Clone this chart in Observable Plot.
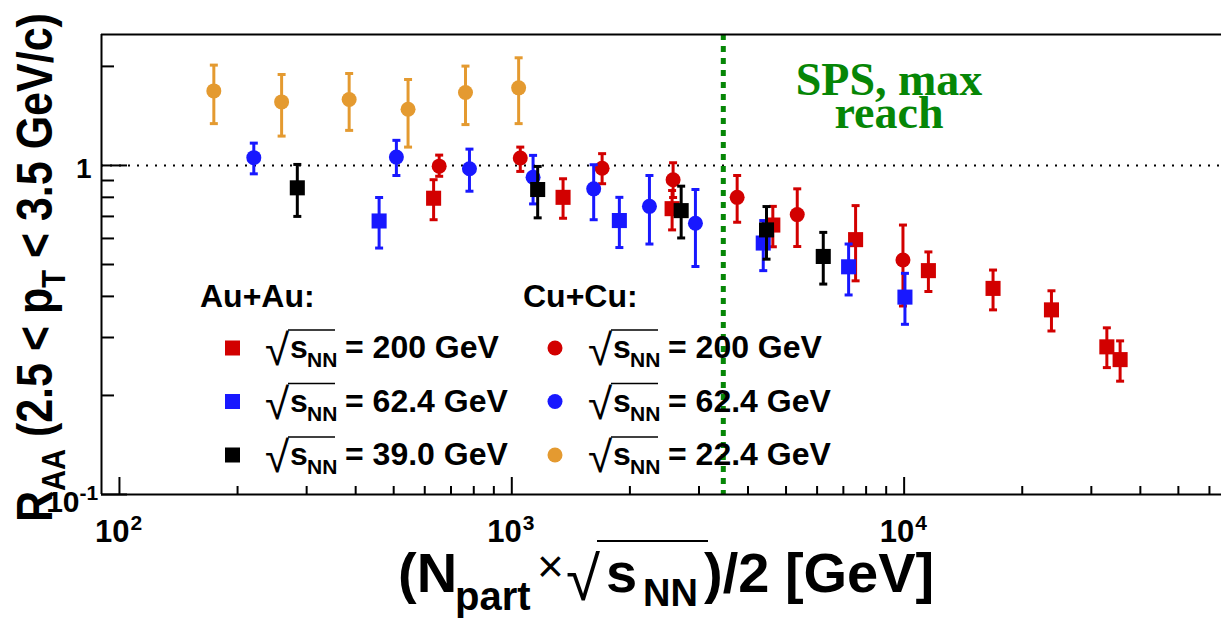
<!DOCTYPE html>
<html><head><meta charset="utf-8">
<script src="https://cdn.jsdelivr.net/npm/d3@7"></script>
<script src="https://cdn.jsdelivr.net/npm/@observablehq/plot@0.6"></script>
<style>
html,body{margin:0;padding:0;background:#fff;}
#chart{width:1221px;height:618px;overflow:hidden;position:relative;}
</style></head><body><div id="chart"></div>
<script>
// ---------------- data ----------------
// Au+Au sqrt(sNN)=200 GeV (red squares)
const auau200X  = [632, 1351, 2562, 4627, 7521, 11530, 16850, 23740, 32860, 35520];
const auau200Y  = [0.795, 0.800, 0.739, 0.659, 0.595, 0.479, 0.423, 0.364, 0.281, 0.257];
const auau200Lo = [0.684, 0.691, 0.637, 0.566, 0.446, 0.414, 0.364, 0.314, 0.243, 0.221];
const auau200Hi = [0.905, 0.911, 0.839, 0.751, 0.755, 0.546, 0.481, 0.416, 0.321, 0.293];
// Au+Au 62.4 GeV (blue squares)
const auau62X  = [459, 1880, 4374, 7219, 10047];
const auau62Y  = [0.678, 0.680, 0.581, 0.492, 0.398];
const auau62Lo = [0.561, 0.563, 0.479, 0.404, 0.329];
const auau62Hi = [0.799, 0.800, 0.680, 0.577, 0.470];
// Au+Au 39.0 GeV (black squares)
const auau39X  = [284, 1164, 2702, 4459, 6221];
const auau39Y  = [0.855, 0.845, 0.729, 0.637, 0.529];
const auau39Lo = [0.700, 0.693, 0.602, 0.519, 0.436];
const auau39Hi = [1.007, 0.993, 0.865, 0.750, 0.626];
// Cu+Cu 200 GeV (red circles)
const cucu200X  = [653, 1051, 1699, 2577, 3753, 5340, 9931];
const cucu200Y  = [0.995, 1.053, 0.981, 0.905, 0.800, 0.709, 0.516];
const cucu200Lo = [0.927, 0.959, 0.880, 0.799, 0.672, 0.567, 0.374];
const cucu200Hi = [1.075, 1.137, 1.086, 1.019, 0.932, 0.849, 0.659];
// Cu+Cu 62.4 GeV (blue circles)
const cucu62X  = [220, 508, 780, 1133, 1617, 2243, 2938];
const cucu62Y  = [1.056, 1.060, 0.977, 0.921, 0.849, 0.751, 0.667];
const cucu62Lo = [0.943, 0.932, 0.835, 0.764, 0.684, 0.577, 0.493];
const cucu62Hi = [1.169, 1.192, 1.121, 1.073, 1.005, 0.932, 0.845];
// Cu+Cu 22.4 GeV (orange circles)
const cucu22X  = [174, 259, 385, 544, 762, 1041];
const cucu22Y  = [1.685, 1.560, 1.586, 1.482, 1.666, 1.721];
const cucu22Lo = [1.340, 1.228, 1.278, 1.137, 1.331, 1.340];
const cucu22Hi = [2.018, 1.890, 1.903, 1.825, 2.004, 2.124];

const spsReach = [3460];            // SPS max reach line (x value)
const unityLine = [1];              // R_AA = 1 reference line

const xDomain = [90, 64400];
const yDomain = [0.1, 2.5];
const xMajorTicks = [100, 1000, 10000];
const xMajorExp   = ["2", "3", "4"];
const xMinorTicks = [200,300,400,500,600,700,800,900,2000,3000,4000,5000,6000,7000,8000,9000,20000,30000,40000,50000,60000];
const yMajorTicks = [0.1, 1];
const yMinorTicks = [0.2,0.3,0.4,0.5,0.6,0.7,0.8,0.9,2];

const seriesKeys   = ["CuCu200", "AuAu200", "AuAu62", "CuCu62", "AuAu39", "CuCu22"];
const seriesColors = ["#d20000", "#d20000", "#1818ff", "#1818ff", "#000000", "#e49a30"];
const seriesSymbols= ["circle", "square", "square", "circle", "square", "circle"];

const legendAuLabels = ["= 200 GeV", "= 62.4 GeV", "= 39.0 GeV"];
const legendAuKeys   = ["AuAu200", "AuAu62", "AuAu39"];
const legendCuLabels = ["= 200 GeV", "= 62.4 GeV", "= 22.4 GeV"];
const legendCuKeys   = ["CuCu200", "CuCu62", "CuCu22"];

// ---------------- layout ----------------
const W = 1221, H = 618;
const M = {left: 101, right: 0, top: 34, bottom: 124};
const innerW = W - M.left - M.right;
const innerH = H - M.top - M.bottom;
const FONT = "'Liberation Sans', Arial, Helvetica, sans-serif";
const GREEN = "#068606";

const seriesData = {
  AuAu200: [auau200X, auau200Y, auau200Lo, auau200Hi],
  AuAu62:  [auau62X, auau62Y, auau62Lo, auau62Hi],
  AuAu39:  [auau39X, auau39Y, auau39Lo, auau39Hi],
  CuCu200: [cucu200X, cucu200Y, cucu200Lo, cucu200Hi],
  CuCu62:  [cucu62X, cucu62Y, cucu62Lo, cucu62Hi],
  CuCu22:  [cucu22X, cucu22Y, cucu22Lo, cucu22Hi]
};

const capSymbol = {draw(ctx, size) { const r = Math.sqrt(size / Math.PI); ctx.moveTo(-r, 0); ctx.lineTo(r, 0); }};

const marks = [
  Plot.ruleY(unityLine, {y: d => d, stroke: "#000", strokeWidth: 2, strokeDasharray: "2 7"}),
  Plot.ruleX(spsReach, {x: d => d, stroke: GREEN, strokeWidth: 5, strokeDasharray: "6 6"})
];

seriesKeys.forEach((key, si) => {
  const [xs, ys, lo, hi] = seriesData[key];
  const rows = xs.map((x, i) => ({key, x, y: ys[i], lo: lo[i], hi: hi[i]}));
  const sym = seriesSymbols[si];
  marks.push(
    Plot.ruleX(rows, {x: "x", y1: "lo", y2: "hi", stroke: "key", strokeWidth: 3}),
    Plot.dot(rows, {x: "x", y: "lo", symbol: capSymbol, r: 4, stroke: "key", strokeWidth: 3, fill: "none"}),
    Plot.dot(rows, {x: "x", y: "hi", symbol: capSymbol, r: 4, stroke: "key", strokeWidth: 3, fill: "none"}),
    Plot.dot(rows, {x: "x", y: "y", symbol: sym, r: sym === "square" ? 8.5 : 7.5, fill: "key", stroke: "none"})
  );
});

marks.push(
  // frame (left, bottom, top)
  Plot.ruleX([xDomain[0]], {x: d => d, stroke: "#000", strokeWidth: 2}),
  Plot.ruleY([yDomain[0]], {y: d => d, stroke: "#000", strokeWidth: 2}),
  Plot.ruleY([yDomain[1]], {y: d => d, stroke: "#000", strokeWidth: 2}),
  // inward ticks
  Plot.ruleX(xMinorTicks, {x: d => d, insetTop: innerH - 8, stroke: "#000", strokeWidth: 2}),
  Plot.ruleX(xMajorTicks, {x: d => d, insetTop: innerH - 17, stroke: "#000", strokeWidth: 2}),
  Plot.ruleY(yMinorTicks, {y: d => d, insetRight: innerW - 13, stroke: "#000", strokeWidth: 2}),
  Plot.ruleY(yMajorTicks, {y: d => d, insetRight: innerW - 26, stroke: "#000", strokeWidth: 2}),
  // x tick labels 10^n
  Plot.text(xMajorTicks, {x: d => d, frameAnchor: "bottom", lineAnchor: "middle", text: () => "10", textAnchor: "end", dx: 10, dy: 38, fontSize: 31, fontWeight: "bold", fill: "#000"}),
  Plot.text(xMajorTicks, {x: d => d, frameAnchor: "bottom", lineAnchor: "middle", text: (d, i) => xMajorExp[i], textAnchor: "start", dx: 11, dy: 29, fontSize: 21, fontWeight: "bold", fill: "#000"}),
  // y tick labels
  Plot.text([yMajorTicks[1]], {y: d => d, frameAnchor: "left", lineAnchor: "middle", text: () => "1", textAnchor: "end", dx: -10, dy: 4, fontSize: 28, fontWeight: "bold", fill: "#000"}),
  Plot.text([yMajorTicks[0]], {y: d => d, frameAnchor: "left", lineAnchor: "middle", text: () => "10", textAnchor: "end", dx: -22, dy: 8, fontSize: 30, fontWeight: "bold", fill: "#000"}),
  Plot.text([yMajorTicks[0]], {y: d => d, frameAnchor: "left", lineAnchor: "middle", text: () => "-1", textAnchor: "start", dx: -22, dy: -1, fontSize: 21, fontWeight: "bold", fill: "#000"})
);

const plot = Plot.plot({
  width: W, height: H,
  marginLeft: M.left, marginRight: M.right, marginTop: M.top, marginBottom: M.bottom,
  style: {fontFamily: FONT, background: "#fff", overflow: "visible"},
  x: {type: "log", domain: xDomain, axis: null},
  y: {type: "log", domain: yDomain, axis: null},
  color: {domain: seriesKeys, range: seriesColors},
  marks
});
document.getElementById("chart").appendChild(plot);

// ---------------- annotations, titles, legend ----------------
const svg = d3.select(plot);
const colorOf = k => seriesColors[seriesKeys.indexOf(k)];
const symbolOf = k => seriesSymbols[seriesKeys.indexOf(k)];

// SPS label
const sps = svg.append("g").attr("font-family", "'Liberation Serif', 'Times New Roman', serif")
  .attr("font-weight", "bold").attr("font-size", 46).attr("fill", GREEN).attr("text-anchor", "middle");
sps.append("text").attr("x", 889).attr("y", 95).text("SPS, max");
sps.append("text").attr("x", 889).attr("y", 128).text("reach");

// sqrt(s_NN) helper
function sqrtS(g, x0, base, o) {
  g.append("text").attr("x", x0).attr("y", base + o.radDy).attr("font-size", o.radFs)
    .attr("font-weight", "normal").text("√");
  g.append("line").attr("x1", x0 + o.radW).attr("x2", x0 + o.overEnd).attr("y1", base + o.overDy).attr("y2", base + o.overDy)
    .attr("stroke", "#000").attr("stroke-width", o.lw);
  g.append("text").attr("x", x0 + o.sX).attr("y", base).attr("font-size", o.fs).text("s");
  g.append("text").attr("x", x0 + o.nnX).attr("y", base + o.subDy).attr("font-size", o.subFs).text("NN");
}

// Legend
const leg = svg.append("g").attr("font-family", FONT).attr("font-weight", "bold").attr("fill", "#000").attr("text-anchor", "start");
leg.append("text").attr("x", 200).attr("y", 307).attr("font-size", 32).text("Au+Au:");
leg.append("text").attr("x", 523).attr("y", 307).attr("font-size", 32).text("Cu+Cu:");
const rowBase = [358, 411.5, 465];
function legendColumn(keys, labels, markerX, textX) {
  keys.forEach((k, i) => {
    const cy = rowBase[i] - 10;
    if (symbolOf(k) === "square") {
      leg.append("rect").attr("x", markerX - 7.5).attr("y", cy - 7.5).attr("width", 15).attr("height", 15).attr("fill", colorOf(k));
    } else {
      leg.append("circle").attr("cx", markerX).attr("cy", cy).attr("r", 7.5).attr("fill", colorOf(k));
    }
    const g = leg.append("g");
    sqrtS(g, textX, rowBase[i], {radDy: 7, radFs: 44, radW: 23, overEnd: 70, overDy: -28, lw: 1.5,
      sX: 25, fs: 32, nnX: 42, subDy: 9, subFs: 21});
    g.append("text").attr("x", textX + 80).attr("y", rowBase[i]).attr("font-size", 32).text(labels[i]);
  });
}
legendColumn(legendAuKeys, legendAuLabels, 232.5, 265);
legendColumn(legendCuKeys, legendCuLabels, 555, 588);

// X axis title
const xt = svg.append("g").attr("font-family", FONT).attr("font-weight", "bold").attr("fill", "#000").attr("text-anchor", "start");
xt.append("text").attr("x", 398).attr("y", 592).attr("font-size", 56).text("(N");
xt.append("text").attr("x", 455).attr("y", 610).attr("font-size", 40).text("part");
xt.append("text").attr("x", 537).attr("y", 582).attr("font-size", 46).attr("font-weight", "normal").text("×");
xt.append("text").attr("x", 566).attr("y", 600).attr("font-size", 62).attr("font-weight", "normal").text("√");
xt.append("line").attr("x1", 597).attr("x2", 708).attr("y1", 541).attr("y2", 541).attr("stroke", "#000").attr("stroke-width", 2);
xt.append("text").attr("x", 606).attr("y", 592).attr("font-size", 56).text("s");
xt.append("text").attr("x", 643).attr("y", 606).attr("font-size", 38).text("NN");
xt.append("text").attr("x", 704).attr("y", 592).attr("font-size", 56).text(")/2 [GeV]");

// Y axis title (rotated)
const yt = svg.append("text").attr("font-family", FONT).attr("font-weight", "bold").attr("fill", "#000")
  .attr("text-anchor", "start").attr("font-size", 43).attr("transform", "translate(52,522) rotate(-90) scale(1,1.15)");
yt.append("tspan").text("R");
yt.append("tspan").attr("dy", 11).attr("font-size", 29).text("AA");
yt.append("tspan").attr("dy", -11).text(" (2.5 < p");
yt.append("tspan").attr("dy", 11).attr("font-size", 29).text("T");
yt.append("tspan").attr("dy", -11).text(" < 3.5 GeV/c)");
</script></body></html>
